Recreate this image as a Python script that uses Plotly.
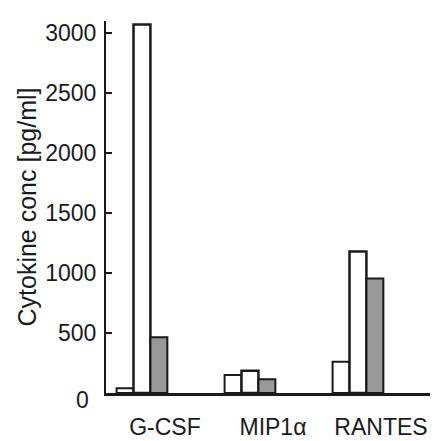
import plotly.graph_objects as go

categories = ["G-CSF", "MIP1α", "RANTES"]
series_a = [40, 150, 260]
series_b = [3070, 185, 1180]
series_c = [465, 115, 955]
y_ticks = [500, 1000, 1500, 2000, 2500, 3000]

ink = "#1a1a1a"
font = "Liberation Sans, Arial, sans-serif"

fig = go.Figure()
fig.add_trace(go.Bar(x=categories, y=series_a, name="a",
                     marker=dict(color="white", line=dict(color=ink, width=2))))
fig.add_trace(go.Bar(x=categories, y=series_b, name="b",
                     marker=dict(color="white", line=dict(color=ink, width=2.5))))
fig.add_trace(go.Bar(x=categories, y=series_c, name="c",
                     marker=dict(color="#a0a0a0", line=dict(color=ink, width=2),
                                 pattern=dict(shape=".", fgcolor="#555", bgcolor="#aaaaaa",
                                              size=2, solidity=0.5))))

fig.update_layout(
    width=432, height=433,
    margin=dict(l=98, r=10, t=13, b=48, autoexpand=False),
    paper_bgcolor="white", plot_bgcolor="white",
    barmode="group", bargap=0.53, bargroupgap=0,
    showlegend=False,
    font=dict(family=font, color=ink),
)
fig.update_xaxes(
    type="category", range=[-0.333, 2.667], automargin=False,
    showline=True, linecolor=ink, linewidth=2.5,
    ticks="", showgrid=False,
    tickfont=dict(size=23, family=font, color=ink),
    ticklabelshift=23, ticklabelstandoff=12,
)
fig.update_yaxes(
    range=[0, 3100], tickvals=y_ticks, automargin=False,
    showline=True, linecolor=ink, linewidth=2,
    ticks="inside", ticklen=6, tickwidth=1.5, tickcolor=ink,
    showgrid=False, zeroline=False,
    tickfont=dict(size=23, family=font, color=ink),
    ticklabelstandoff=3,
    title=dict(text="Cytokine conc [pg/ml]", font=dict(size=25, family=font, color=ink),
               standoff=1),
)
fig.add_annotation(x=-0.045, xref="paper", y=0, yref="y", text="0", showarrow=False,
                   xanchor="right", yanchor="middle", yshift=-7,
                   font=dict(size=23, family=font, color=ink))
fig.write_html("out.html")
